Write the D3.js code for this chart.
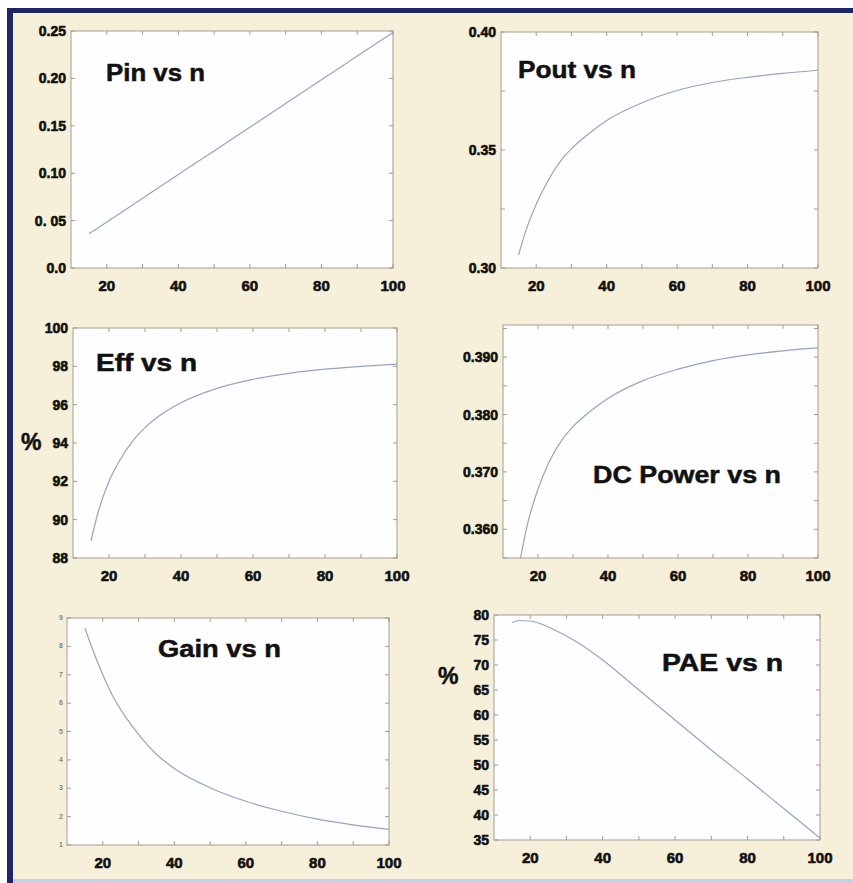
<!DOCTYPE html>
<html>
<head>
<meta charset="utf-8">
<script src="https://cdn.jsdelivr.net/npm/d3@7"></script>
<style>
  body { margin: 0; background: #ffffff; }
  svg { display: block; }
</style>
</head>
<body>
<div id="chart"></div>
<script>
// values (x = n)
const nValues = [15, 17, 20, 23, 27, 30, 35, 40, 50, 60, 70, 80, 90, 100];
const pinValues = [0.036, 0.041, 0.0485, 0.056, 0.066, 0.0735, 0.086, 0.0985, 0.1235, 0.1485, 0.1735, 0.1985, 0.2235, 0.2485];
const poutValues = [0.3056, 0.3155, 0.327, 0.336, 0.3455, 0.3505, 0.357, 0.3625, 0.370, 0.3752, 0.3786, 0.3808, 0.3825, 0.3838];
const effValues = [88.9, 90.4, 92.0, 93.1, 94.2, 94.8, 95.55, 96.1, 96.85, 97.32, 97.63, 97.85, 98.0, 98.12];
const dcValues = [0.3550, 0.3609, 0.3670, 0.3715, 0.3757, 0.3779, 0.3806, 0.3828, 0.3859, 0.3879, 0.3894, 0.3904, 0.3911, 0.3916];
const gainValues = [8.65, 7.95, 7.0, 6.2, 5.4, 4.9, 4.2, 3.7, 3.02, 2.54, 2.19, 1.91, 1.71, 1.55];
const paeValues = [78.5, 78.9, 78.8, 78.2, 76.9, 75.8, 73.6, 71.0, 65.0, 59.0, 53.0, 47.2, 41.3, 35.4];

const xTickLabels = [20, 40, 60, 80, 100];
const pinTicks = [0, 0.05, 0.10, 0.15, 0.20, 0.25];
const pinTickLabels = ["0.0", "0. 05", "0.10", "0.15", "0.20", "0.25"];
const poutTicks = [0.30, 0.35, 0.40];
const effTicks = [88, 90, 92, 94, 96, 98, 100];
const dcTicks = [0.360, 0.370, 0.380, 0.390];
const gainTicks = [1, 2, 3, 4, 5, 6, 7, 8, 9];
const paeTicks = [35, 40, 45, 50, 55, 60, 65, 70, 75, 80];

const width = 853;
const height = 883;

const svg = d3.select("#chart").append("svg")
    .attr("width", width)
    .attr("height", height);

// scanned page background and the dark frame
svg.append("rect")
    .attr("x", 7).attr("y", 8)
    .attr("width", width - 7).attr("height", height - 8)
    .attr("fill", "#f6efd9");

svg.append("rect")
    .attr("x", 7).attr("y", 8)
    .attr("width", width - 7).attr("height", 5)
    .attr("fill", "#1d2668");

svg.append("rect")
    .attr("x", 7).attr("y", 8)
    .attr("width", 6).attr("height", height - 8)
    .attr("fill", "#1d2668");

svg.append("rect")
    .attr("x", 13).attr("y", 879)
    .attr("width", width - 13).attr("height", 4)
    .attr("fill", "#c9cfdc");

const panels = [
  { box: [71, 31, 393, 268], values: pinValues, yDomain: [0, 0.25], yTicks: pinTicks,
    yLabels: pinTickLabels, yMinor: pinTicks, title: "Pin vs n", tx: 106, ty: 81, tw: 99 },
  { box: [501, 32, 818, 268], values: poutValues, yDomain: [0.30, 0.40], yTicks: poutTicks,
    yLabels: poutTicks.map(d => d.toFixed(2)), yMinor: d3.range(0.30, 0.401, 0.025),
    title: "Pout vs n", tx: 518, ty: 78, tw: 118 },
  { box: [73, 328, 397, 558], values: effValues, yDomain: [88, 100], yTicks: effTicks,
    yLabels: effTicks.map(String), yMinor: effTicks, title: "Eff vs n", tx: 96, ty: 371, tw: 101,
    unit: { x: 21, y: 450 } },
  { box: [503, 325, 818, 558], values: dcValues, yDomain: [0.355, 0.3956], yTicks: dcTicks,
    yLabels: dcTicks.map(d => d.toFixed(3)), yMinor: d3.range(0.355, 0.3956, 0.005),
    title: "DC Power vs n", tx: 593, ty: 483, tw: 188 },
  { box: [67, 618, 389, 845], values: gainValues, yDomain: [1, 9], yTicks: gainTicks,
    yLabels: gainTicks.map(String), yMinor: gainTicks, title: "Gain vs n", tx: 158, ty: 657, tw: 123,
    tiny: true },
  { box: [494, 615, 820, 840], values: paeValues, yDomain: [35, 80], yTicks: paeTicks,
    yLabels: paeTicks.map(String), yMinor: paeTicks, title: "PAE vs n", tx: 662, ty: 671, tw: 121,
    unit: { x: 438, y: 684 } }
];

panels.forEach((p, i) => {
    const [x0, y0, x1, y1] = p.box;

    const x = d3.scaleLinear().domain([10, 100]).range([x0, x1]);
    const y = d3.scaleLinear().domain(p.yDomain).range([y1, y0]);

    const g = svg.append("g");

    // white plot area
    g.append("rect")
        .attr("x", x0).attr("y", y0)
        .attr("width", x1 - x0).attr("height", y1 - y0)
        .attr("fill", "#fefefe")
        .attr("stroke", "#a39b92")
        .attr("stroke-width", 1);

    // inward ticks on all four sides
    const xMinor = d3.range(20, 101, 10);
    xMinor.forEach(t => {
        g.append("line").attr("x1", x(t)).attr("x2", x(t))
            .attr("y1", y1).attr("y2", y1 - 4).attr("stroke", "#a39b92");
        g.append("line").attr("x1", x(t)).attr("x2", x(t))
            .attr("y1", y0).attr("y2", y0 + 4).attr("stroke", "#a39b92");
    });
    p.yMinor.forEach(t => {
        g.append("line").attr("x1", x0).attr("x2", x0 + 4)
            .attr("y1", y(t)).attr("y2", y(t)).attr("stroke", "#a39b92");
        g.append("line").attr("x1", x1).attr("x2", x1 - 4)
            .attr("y1", y(t)).attr("y2", y(t)).attr("stroke", "#a39b92");
    });

    // x tick labels
    g.selectAll(".xlab")
        .data(xTickLabels)
        .enter()
        .append("text")
        .attr("x", d => x(d))
        .attr("y", y1 + 23)
        .attr("text-anchor", "middle")
        .style("font-family", "Liberation Sans, Arial, sans-serif")
        .style("font-weight", "bold")
        .style("font-size", "15px")
        .style("fill", "#111")
        .style("stroke", "#111")
        .style("stroke-width", 0.6)
        .text(d => d);

    // y tick labels
    g.selectAll(".ylab")
        .data(p.yTicks)
        .enter()
        .append("text")
        .attr("x", x0 - (p.tiny ? 4 : 5))
        .attr("y", d => y(d))
        .attr("dy", p.tiny ? "0.3em" : "0.36em")
        .attr("text-anchor", "end")
        .style("font-family", "Liberation Sans, Arial, sans-serif")
        .style("font-weight", "bold")
        .style("font-size", p.tiny ? "7px" : "14px")
        .style("fill", p.tiny ? "#8a8478" : "#111")
        .style("stroke", p.tiny ? "none" : "#111")
        .style("stroke-width", 0.6)
        .text((d, j) => p.yLabels[j]);

    // the curve
    const clipId = "clip" + i;
    g.append("clipPath").attr("id", clipId)
        .append("rect")
        .attr("x", x0).attr("y", y0)
        .attr("width", x1 - x0).attr("height", y1 - y0);

    const line = d3.line()
        .x((d, j) => x(nValues[j]))
        .y(d => y(d))
        .curve(d3.curveMonotoneX);

    g.append("path")
        .datum(p.values)
        .attr("d", line)
        .attr("clip-path", `url(#${clipId})`)
        .attr("fill", "none")
        .attr("stroke", "#96a3c3")
        .attr("stroke-width", 1.2);

    // title inside the plot
    g.append("text")
        .attr("x", p.tx)
        .attr("y", p.ty)
        .attr("textLength", p.tw)
        .attr("lengthAdjust", "spacingAndGlyphs")
        .style("font-family", "Liberation Sans, Arial, sans-serif")
        .style("font-weight", "bold")
        .style("font-size", "23px")
        .style("fill", "#111")
        .style("stroke", "#111")
        .style("stroke-width", 0.5)
        .text(p.title);

    if (p.unit) {
        g.append("text")
            .attr("x", p.unit.x)
            .attr("y", p.unit.y)
            .style("font-family", "Liberation Sans, Arial, sans-serif")
            .style("font-weight", "bold")
            .style("font-size", "23px")
            .style("fill", "#111")
            .style("stroke", "#111")
            .style("stroke-width", 0.5)
            .text("%");
    }
});
</script>
</body>
</html>
